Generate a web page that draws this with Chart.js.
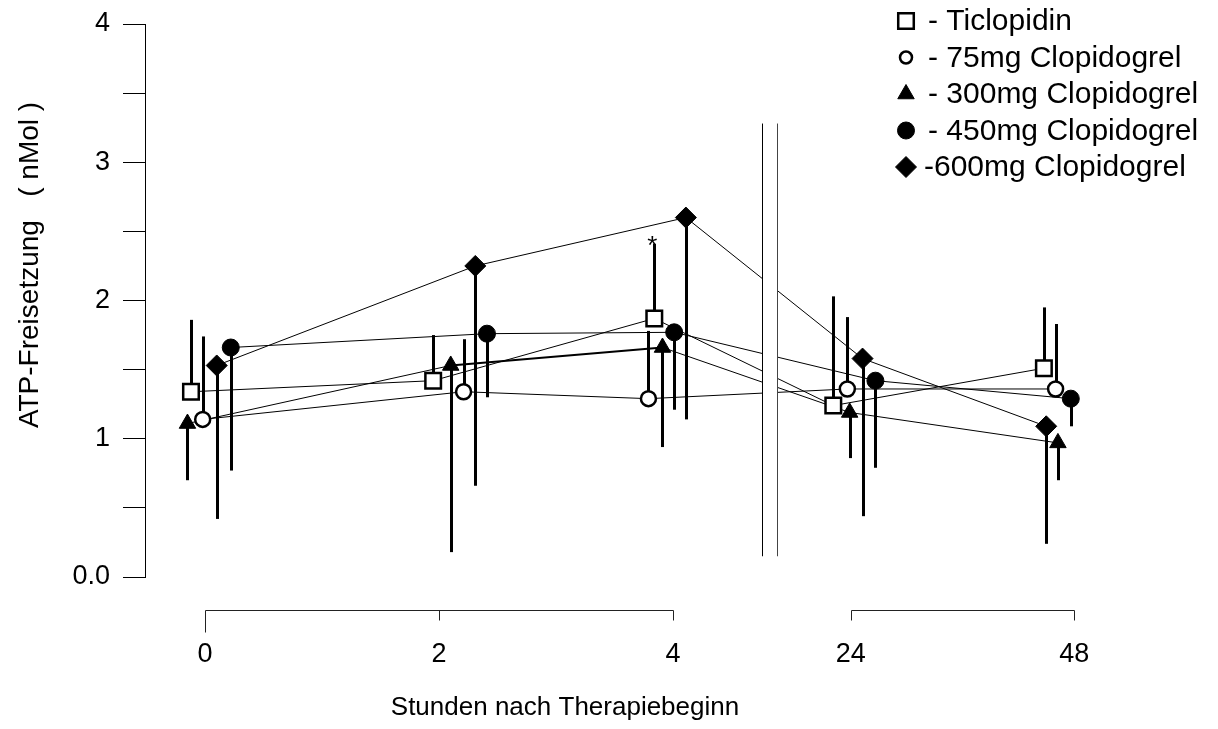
<!DOCTYPE html>
<html>
<head>
<meta charset="utf-8">
<script src="https://cdn.jsdelivr.net/npm/chart.js@4.4.1/dist/chart.umd.min.js"></script>
<style>
  html, body { margin: 0; padding: 0; background: #fff; }
</style>
</head>
<body>
<canvas id="atpChart" width="1218" height="729"></canvas>
<script>
// time points (hours) and where they sit on the broken axis
const timeLabels = ['0', '2', '4', '24', '48'];
const timePos = [0, 2, 4, 5.52, 7.43];

const legendText = ['- Ticlopidin', '- 75mg Clopidogrel', '- 300mg Clopidogrel', '- 450mg Clopidogrel', '-600mg Clopidogrel'];

// mean ATP release (nMol)
const ticlopidin = [1.34, 1.42, 1.87, 1.24, 1.51];
const clop75 = [1.14, 1.34, 1.29, 1.36, 1.36];
const clop300 = [1.11, 1.53, 1.66, 1.19, 0.97];
const clop450 = [1.66, 1.76, 1.77, 1.42, 1.29];
const clop600 = [1.53, 2.25, 2.60, 1.58, 1.09];

// standard deviations, drawn one-sided
const sdTiclopidin = [0.52, 0.33, 0.54, 0.79, 0.44];
const sd75 = [0.60, 0.38, 0.49, 0.52, 0.47];
const sd300 = [0.41, 1.35, 0.72, 0.33, 0.27];
const sd450 = [0.89, 0.46, 0.56, 0.63, 0.20];
const sd600 = [1.11, 1.59, 1.46, 1.14, 0.85];

// small sideways shift of each symbol so they don't sit on top of each other
const shiftTiclopidin = [-0.12, -0.05, -0.16, -0.15, -0.26];
const shift75 = [-0.02, 0.21, -0.21, -0.03, -0.16];
const shift300 = [-0.15, 0.10, -0.09, -0.01, -0.14];
const shift450 = [0.22, 0.41, 0.01, 0.21, -0.03];
const shift600 = [0.10, 0.31, 0.11, 0.10, -0.24];

const yTickValues = [0, 0.5, 1, 1.5, 2, 2.5, 3, 3.5, 4];
const yTickLabels = ['0.0', '', '1', '', '2', '', '3', '', '4'];

const means = [ticlopidin, clop75, clop300, clop450, clop600];
const sds = [sdTiclopidin, sd75, sd300, sd450, sd600];
const shifts = [shiftTiclopidin, shift75, shift300, shift450, shift600];
const barDir = [1, 1, -1, -1, -1]; // open symbols up, filled symbols down
const styles = [
  { pointStyle: 'rect', radius: 11, fill: '#fff', bw: 2.5 },
  { pointStyle: 'circle', radius: 7.5, fill: '#fff', bw: 2.5 },
  { pointStyle: 'triangle', radius: 9.5, fill: '#000', bw: 1 },
  { pointStyle: 'circle', radius: 8.5, fill: '#000', bw: 1 },
  { pointStyle: 'rectRot', radius: 10.5, fill: '#000', bw: 1 }
];

Chart.defaults.font.family = '"Liberation Sans", Arial, sans-serif';
Chart.defaults.color = '#000';

const errorBars = {
  id: 'errorBars',
  beforeDatasetsDraw(chart) {
    const { ctx, scales: { x, y } } = chart;
    ctx.save();
    ctx.strokeStyle = '#000';
    ctx.lineWidth = 3;
    chart.data.datasets.forEach((ds, i) => {
      ds.data.forEach((p, j) => {
        const px = Math.round(x.getPixelForValue(p.x)) + 0.5;
        ctx.beginPath();
        ctx.moveTo(px, y.getPixelForValue(p.y));
        ctx.lineTo(px, y.getPixelForValue(p.y + barDir[i] * sds[i][j]));
        ctx.stroke();
      });
    });
    ctx.restore();
  }
};

const decorations = {
  id: 'decorations',
  afterDatasetsDraw(chart) {
    const { ctx, chartArea, scales: { x, y } } = chart;
    ctx.save();

    // axis break between 4 h and 24 h
    const b1 = Math.round(x.getPixelForValue(4.76)) + 0.5;
    const b2 = Math.round(x.getPixelForValue(4.89)) + 0.5;
    const bTop = y.getPixelForValue(3.28), bBot = y.getPixelForValue(0.15);
    ctx.fillStyle = '#fff';
    ctx.fillRect(b1, bTop, b2 - b1, bBot - bTop);
    ctx.lineWidth = 1;
    ctx.strokeStyle = '#000';
    ctx.beginPath(); ctx.moveTo(b1, bTop); ctx.lineTo(b1, bBot); ctx.stroke();
    ctx.strokeStyle = '#444';
    ctx.beginPath(); ctx.moveTo(b2, bTop); ctx.lineTo(b2, bBot); ctx.stroke();

    // broken x axis
    const axisY = chartArea.bottom + 33.5;
    ctx.strokeStyle = '#222';
    [[0, 2], [3, 4]].forEach(([a, b]) => {
      const xa = Math.round(x.getPixelForValue(timePos[a])) + 0.5;
      const xb = Math.round(x.getPixelForValue(timePos[b])) + 0.5;
      ctx.beginPath();
      ctx.moveTo(xa, axisY); ctx.lineTo(xb, axisY);
      ctx.stroke();
      for (let k = a; k <= b; k++) {
        const xt = Math.round(x.getPixelForValue(timePos[k])) + 0.5;
        ctx.beginPath();
        ctx.moveTo(xt, axisY);
        ctx.lineTo(xt, axisY + (k === 0 ? 22 : 10));
        ctx.stroke();
      }
    });

    // significance mark on Ticlopidin at 4 h
    const sx = x.getPixelForValue(timePos[2] + shiftTiclopidin[2]);
    const sy = y.getPixelForValue(ticlopidin[2] + sdTiclopidin[2]);
    ctx.fillStyle = '#000';
    ctx.font = '26px "Liberation Sans", Arial, sans-serif';
    ctx.textAlign = 'center';
    ctx.textBaseline = 'alphabetic';
    ctx.fillText('*', sx - 2, sy + 10);

    // axis titles
    ctx.font = '26px "Liberation Sans", Arial, sans-serif';
    ctx.textBaseline = 'middle';
    ctx.fillText('Stunden nach Therapiebeginn', 565, 708);
    ctx.save();
    ctx.translate(30, 265);
    ctx.rotate(-Math.PI / 2);
    ctx.font = '28px "Liberation Sans", Arial, sans-serif';
    ctx.fillText('ATP-Freisetzung   ( nMol )', 0, 0);
    ctx.restore();

    // legend
    ctx.font = '30px "Liberation Sans", Arial, sans-serif';
    ctx.textAlign = 'left';
    legendText.forEach((t, i) => {
      const ly = 21 + i * 36.5;
      const st = styles[i];
      ctx.fillStyle = st.fill;
      ctx.strokeStyle = '#000';
      ctx.lineWidth = st.bw;
      const r = i === 1 ? 6 : st.radius;
      Chart.helpers.drawPoint(ctx, { pointStyle: st.pointStyle, radius: r, borderWidth: st.bw, rotation: 0 }, 906, ly);
      ctx.fillStyle = '#000';
      ctx.fillText(t, i === 4 ? 924 : 928, ly + 1);
    });
    ctx.restore();
  }
};

const datasets = means.map((m, i) => ({
  label: legendText[i],
  data: m.map((v, j) => ({ x: timePos[j] + shifts[i][j], y: v })),
  showLine: true,
  borderColor: '#000',
  borderWidth: 1,
  segment: {
    borderWidth: c => (i === 2 && c.p0DataIndex === 1 ? 2.2 : 1)
  },
  pointStyle: styles[i].pointStyle,
  pointRadius: styles[i].radius,
  pointBackgroundColor: styles[i].fill,
  pointBorderColor: '#000',
  pointBorderWidth: styles[i].bw,
  clip: false
}));

new Chart(document.getElementById('atpChart'), {
  type: 'scatter',
  data: { datasets },
  options: {
    responsive: false,
    animation: false,
    devicePixelRatio: 1,
    layout: { padding: { left: 0, right: 77, top: 24, bottom: 0 } },
    plugins: { legend: { display: false }, tooltip: { enabled: false } },
    scales: {
      x: {
        type: 'linear',
        min: -0.513,
        max: 8,
        afterBuildTicks: s => { s.ticks = timePos.map(v => ({ value: v })); },
        afterFit: s => { s.height = 152; s.paddingLeft = 0; s.paddingRight = 0; },
        grid: { display: false, drawTicks: false },
        border: { display: false },
        ticks: {
          autoSkip: false, maxRotation: 0, padding: 61,
          font: { size: 27 }, color: '#000',
          callback: (v, i) => timeLabels[i]
        }
      },
      y: {
        min: 0,
        max: 4,
        afterBuildTicks: s => { s.ticks = yTickValues.map(v => ({ value: v })); },
        afterFit: s => { s.width = 145; s.paddingTop = 0; s.paddingBottom = 0; },
        grid: { drawOnChartArea: false, drawTicks: true, tickLength: 22, color: '#000', lineWidth: 1 },
        border: { display: true, color: '#000', width: 1 },
        ticks: {
          padding: 13, font: { size: 27 }, color: '#000',
          callback: (v, i) => yTickLabels[i]
        }
      }
    }
  },
  plugins: [errorBars, decorations]
});
</script>
</body>
</html>
